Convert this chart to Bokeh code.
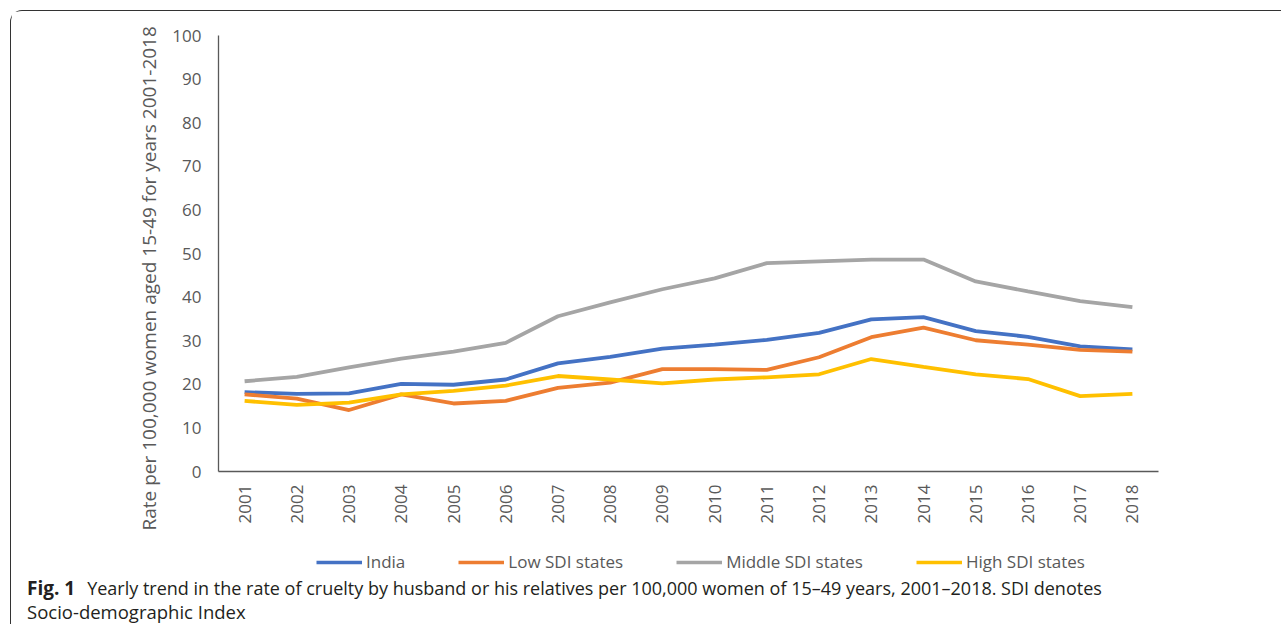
import math
from bokeh.plotting import figure
from bokeh.models import Legend, LegendItem, FixedTicker, FactorRange, Range1d, Div, Title
from bokeh.layouts import column
from bokeh.embed import file_html
from bokeh.resources import INLINE

# ---------------- data ----------------
years = [str(y) for y in range(2001, 2019)]
india = [18.2, 17.8, 17.9, 20.1, 19.9, 21.1, 24.8, 26.3, 28.2, 29.1, 30.2, 31.8, 34.9, 35.4, 32.2, 30.9, 28.7, 28.0]
low_sdi = [17.7, 16.7, 14.1, 17.7, 15.6, 16.2, 19.2, 20.4, 23.5, 23.5, 23.3, 26.2, 30.8, 33.0, 30.1, 29.1, 27.9, 27.5]
middle_sdi = [20.7, 21.7, 23.9, 25.9, 27.5, 29.5, 35.6, 38.8, 41.8, 44.3, 47.8, 48.2, 48.6, 48.6, 43.6, 41.3, 39.1, 37.7]
high_sdi = [16.2, 15.3, 15.8, 17.7, 18.5, 19.7, 21.9, 21.1, 20.2, 21.1, 21.6, 22.3, 25.8, 24.0, 22.3, 21.2, 17.3, 17.8]

series_names = ["India", "Low SDI states", "Middle SDI states", "High SDI states"]
series_values = [india, low_sdi, middle_sdi, high_sdi]
series_colors = ["#4472C4", "#ED7D31", "#A5A5A5", "#FFC000"]
y_ticks = [0, 10, 20, 30, 40, 50, 60, 70, 80, 90, 100]

y_title = "Rate per 100,000 women aged 15-49 for years 2001-2018"
caption_bold = "Fig. 1"
caption_line1 = "Yearly trend in the rate of cruelty by husband or his relatives per 100,000 women of 15\u201349 years, 2001\u20132018. SDI denotes"
caption_line2 = "Socio-demographic Index"

FONT = "Open Sans"
GRAY = "#595959"

# ---------------- main chart ----------------
p = figure(x_range=FactorRange(*years), y_range=Range1d(0, 100),
           frame_width=940, frame_height=436,
           min_border_left=207, min_border_right=123,
           min_border_top=24, min_border_bottom=77,
           output_backend="svg", toolbar_location=None, margin=0)
p.outline_line_color = None
p.xgrid.grid_line_color = None
p.ygrid.grid_line_color = None
p.background_fill_color = "white"
p.border_fill_color = "white"

for ax in (p.xaxis[0], p.yaxis[0]):
    ax.axis_line_color = GRAY
    ax.axis_line_width = 1.3
    ax.major_tick_line_color = None
    ax.minor_tick_line_color = None
    ax.major_tick_out = 0
    ax.major_tick_in = 0
    ax.major_label_text_font = FONT
    ax.major_label_text_font_size = "17px"
    ax.major_label_text_color = GRAY

p.yaxis[0].ticker = FixedTicker(ticks=y_ticks)
p.yaxis[0].major_label_standoff = 17
p.xaxis[0].major_label_orientation = math.pi / 2
p.xaxis[0].major_label_standoff = 13

# y-axis title as a side-panel title (so it can be shifted along the axis)
p.add_layout(Title(text=y_title, align="left", offset=-59, standoff=16,
                   text_font=FONT, text_font_size="19px",
                   text_font_style="normal", text_color=GRAY), "left")

for vals, col in zip(series_values, series_colors):
    p.line(years, vals, line_color=col, line_width=3.8)

# ---------------- legend strip ----------------
lf = figure(width=1270, height=28, x_range=Range1d(0, 1), y_range=Range1d(0, 1),
            min_border=0, x_axis_location=None, y_axis_location=None,
            output_backend="svg", toolbar_location=None, margin=0)
lf.outline_line_color = None
lf.xgrid.grid_line_color = None
lf.ygrid.grid_line_color = None
items = []
for col, name in zip(series_colors, series_names):
    # legend proxies: NaN data, nothing is drawn in the strip itself
    r = lf.line(x=[float("nan")], y=[float("nan")], line_color=col, line_width=3.5)
    items.append(LegendItem(label=name, renderers=[r]))
legend = Legend(items=items, location=(98, 3), orientation="horizontal",
                glyph_width=46, glyph_height=20, label_standoff=4, spacing=53,
                padding=0, margin=0, border_line_color=None,
                background_fill_alpha=0,
                label_text_font=FONT, label_text_font_size="17px",
                label_text_color=GRAY)
lf.add_layout(legend, "center")

# ---------------- caption ----------------
caption_html = (
    '<div style="padding-left:16px;font-family:\'Open Sans\';font-size:18px;'
    'line-height:24px;color:#231f20;white-space:nowrap">'
    f'<b style="font-size:19px">{caption_bold}</b>'
    f'<span style="margin-left:12px">{caption_line1}</span><br>'
    f'<span style="font-size:18.5px">{caption_line2}</span></div>'
)
cap = Div(text=caption_html, width=1270, height=48, margin=0)

layout = column(p, lf, cap, spacing=0, margin=(10, 0, 0, 10),
                styles={"border-top": "1.3px solid #333333",
                        "border-left": "1.3px solid #333333",
                        "border-top-left-radius": "12px"})

open("out.html", "w").write(file_html(layout, INLINE))
